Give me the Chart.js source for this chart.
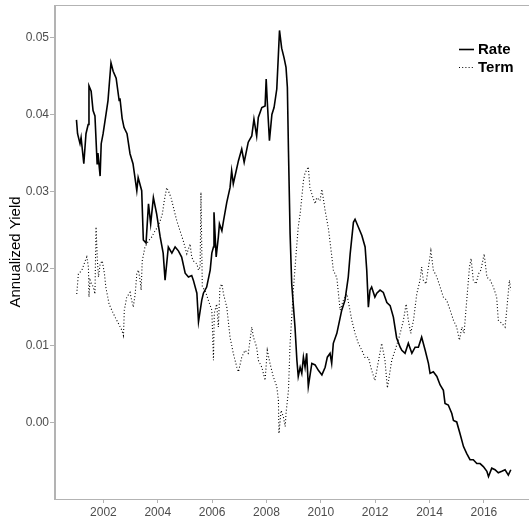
<!DOCTYPE html>
<html>
<head>
<meta charset="utf-8">
<title>Annualized Yield</title>
<script src="https://cdn.jsdelivr.net/npm/chart.js@4.4.1/dist/chart.umd.min.js"></script>
<style>
	html, body { margin: 0; padding: 0; background: #ffffff; overflow: hidden; }
	#wrap { width: 529px; height: 521px; }
</style>
</head>
<body>
<div id="wrap"><canvas id="yieldChart" width="529" height="521"></canvas></div>
<script>
	// Rate series (decimal year, yield)
	const rateYears = [
		2001.01, 2001.05, 2001.14, 2001.18, 2001.28, 2001.36, 2001.44, 2001.47, 2001.55, 2001.62,
		2001.69, 2001.77, 2001.80, 2001.88, 2001.92, 2001.99, 2002.10, 2002.17, 2002.28, 2002.36,
		2002.47, 2002.58, 2002.61, 2002.69, 2002.76, 2002.87, 2002.98, 2003.09, 2003.23, 2003.28,
		2003.41, 2003.47, 2003.57, 2003.66, 2003.74, 2003.84, 2003.96, 2004.09, 2004.20, 2004.27,
		2004.39, 2004.52, 2004.64, 2004.76, 2004.88, 2005.01, 2005.13, 2005.25, 2005.31, 2005.44,
		2005.50, 2005.62, 2005.68, 2005.80, 2005.93, 2005.99, 2006.05, 2006.07, 2006.15, 2006.23,
		2006.27, 2006.36, 2006.42, 2006.54, 2006.66, 2006.72, 2006.78, 2006.97, 2007.09, 2007.18,
		2007.33, 2007.46, 2007.54, 2007.64, 2007.70, 2007.83, 2007.95, 2007.99, 2008.03, 2008.11,
		2008.20, 2008.28, 2008.38, 2008.44, 2008.48, 2008.56, 2008.65, 2008.72, 2008.77, 2008.81,
		2008.87, 2008.93, 2009.05, 2009.12, 2009.17, 2009.24, 2009.30, 2009.36, 2009.42, 2009.48,
		2009.54, 2009.67, 2009.79, 2009.91, 2010.04, 2010.16, 2010.24, 2010.34, 2010.40, 2010.46,
		2010.59, 2010.77, 2010.89, 2011.01, 2011.08, 2011.20, 2011.26, 2011.38, 2011.51, 2011.63,
		2011.69, 2011.75, 2011.81, 2011.87, 2011.99, 2012.06, 2012.18, 2012.30, 2012.43, 2012.55,
		2012.67, 2012.79, 2012.92, 2012.98, 2013.10, 2013.22, 2013.35, 2013.47, 2013.59, 2013.71,
		2013.84, 2013.96, 2014.02, 2014.14, 2014.27, 2014.39, 2014.51, 2014.57, 2014.69, 2014.82,
		2014.88, 2015.00, 2015.12, 2015.25, 2015.37, 2015.49, 2015.61, 2015.74, 2015.86, 2015.98,
		2016.11, 2016.17, 2016.29, 2016.41, 2016.53, 2016.66, 2016.78, 2016.90, 2016.99
	];
	const rateValues = [
		0.0393, 0.0375, 0.0362, 0.0370, 0.0336, 0.0375, 0.0387, 0.0437, 0.0430, 0.0405,
		0.0398, 0.0336, 0.0350, 0.0320, 0.0362, 0.0375, 0.0401, 0.0418, 0.0467, 0.0456,
		0.0447, 0.0418, 0.0421, 0.0395, 0.0383, 0.0375, 0.0349, 0.0336, 0.0301, 0.0318,
		0.0301, 0.0237, 0.0233, 0.0284, 0.0258, 0.0292, 0.0271, 0.0241, 0.0220, 0.0185,
		0.0228, 0.0220, 0.0228, 0.0223, 0.0215, 0.0194, 0.0189, 0.0191, 0.0185, 0.0168,
		0.0131, 0.0159, 0.0168, 0.0176, 0.0198, 0.0220, 0.0228, 0.0273, 0.0215, 0.0241,
		0.0258, 0.0249, 0.0262, 0.0286, 0.0305, 0.0327, 0.0310, 0.0340, 0.0355, 0.0338,
		0.0364, 0.0372, 0.0394, 0.0372, 0.0396, 0.0409, 0.0411, 0.0446, 0.0417, 0.0366,
		0.0400, 0.0409, 0.0433, 0.0478, 0.0509, 0.0486, 0.0473, 0.0461, 0.0435, 0.0353,
		0.0245, 0.0180, 0.0124, 0.0081, 0.0060, 0.0072, 0.0064, 0.0085, 0.0072, 0.0090,
		0.0047, 0.0077, 0.0075, 0.0068, 0.0062, 0.0072, 0.0085, 0.0090, 0.0077, 0.0103,
		0.0116, 0.0146, 0.0159, 0.0189, 0.0219, 0.0260, 0.0264, 0.0254, 0.0243, 0.0228,
		0.0198, 0.0150, 0.0172, 0.0176, 0.0163, 0.0168, 0.0172, 0.0169, 0.0156, 0.0152,
		0.0137, 0.0110, 0.0098, 0.0094, 0.0090, 0.0103, 0.0090, 0.0098, 0.0098, 0.0111,
		0.0094, 0.0077, 0.0064, 0.0066, 0.0060, 0.0049, 0.0042, 0.0025, 0.0023, 0.0012,
		0.0003, 0.0001, -0.0014, -0.0031, -0.0040, -0.0048, -0.0048, -0.0053, -0.0053, -0.0057,
		-0.0063, -0.0070, -0.0059, -0.0061, -0.0065, -0.0063, -0.0061, -0.0068, -0.0061
	];

	// Term series (decimal year, yield)
	const termYears = [
		2001.02, 2001.08, 2001.21, 2001.33, 2001.39, 2001.45, 2001.47, 2001.51, 2001.57, 2001.63,
		2001.69, 2001.73, 2001.78, 2001.82, 2001.88, 2001.96, 2002.04, 2002.09, 2002.16, 2002.21,
		2002.31, 2002.43, 2002.55, 2002.68, 2002.74, 2002.77, 2002.86, 2002.98, 2003.04, 2003.10,
		2003.17, 2003.23, 2003.29, 2003.35, 2003.39, 2003.43, 2003.53, 2003.66, 2003.78, 2003.90,
		2004.00, 2004.09, 2004.17, 2004.24, 2004.33, 2004.39, 2004.49, 2004.58, 2004.70, 2004.82,
		2004.94, 2005.07, 2005.19, 2005.25, 2005.31, 2005.44, 2005.50, 2005.56, 2005.59, 2005.64,
		2005.74, 2005.86, 2005.99, 2006.05, 2006.08, 2006.17, 2006.23, 2006.29, 2006.36, 2006.42,
		2006.54, 2006.66, 2006.78, 2006.91, 2006.97, 2007.09, 2007.21, 2007.33, 2007.46, 2007.52,
		2007.64, 2007.70, 2007.83, 2007.95, 2008.03, 2008.13, 2008.25, 2008.38, 2008.44, 2008.46,
		2008.54, 2008.62, 2008.69, 2008.72, 2008.81, 2008.87, 2008.93, 2008.99, 2009.09, 2009.17,
		2009.24, 2009.30, 2009.36, 2009.42, 2009.54, 2009.60, 2009.67, 2009.79, 2009.85, 2009.97,
		2010.04, 2010.16, 2010.28, 2010.40, 2010.46, 2010.59, 2010.71, 2010.83, 2010.96, 2011.05,
		2011.14, 2011.26, 2011.38, 2011.51, 2011.63, 2011.75, 2011.87, 2011.99, 2012.08, 2012.24,
		2012.36, 2012.45, 2012.61, 2012.73, 2012.85, 2012.92, 2013.04, 2013.14, 2013.22, 2013.31,
		2013.41, 2013.53, 2013.65, 2013.71, 2013.77, 2013.87, 2013.96, 2014.05, 2014.14, 2014.27,
		2014.39, 2014.51, 2014.63, 2014.76, 2014.88, 2015.00, 2015.10, 2015.19, 2015.27, 2015.37,
		2015.47, 2015.53, 2015.61, 2015.71, 2015.80, 2015.89, 2016.01, 2016.11, 2016.23, 2016.35,
		2016.47, 2016.53, 2016.66, 2016.78, 2016.84, 2016.94, 2016.99
	];
	const termValues = [
		0.0167, 0.0193, 0.0198, 0.0210, 0.0215, 0.0202, 0.0163, 0.0185, 0.0180, 0.0176,
		0.0167, 0.0254, 0.0210, 0.0189, 0.0206, 0.0210, 0.0193, 0.0176, 0.0163, 0.0154,
		0.0146, 0.0137, 0.0129, 0.0120, 0.0113, 0.0146, 0.0163, 0.0169, 0.0159, 0.0150,
		0.0167, 0.0193, 0.0198, 0.0185, 0.0172, 0.0210, 0.0228, 0.0236, 0.0241, 0.0249,
		0.0254, 0.0262, 0.0271, 0.0288, 0.0305, 0.0301, 0.0292, 0.0279, 0.0262, 0.0249,
		0.0236, 0.0219, 0.0232, 0.0215, 0.0210, 0.0206, 0.0198, 0.0202, 0.0299, 0.0176,
		0.0172, 0.0159, 0.0146, 0.0081, 0.0142, 0.0154, 0.0124, 0.0176, 0.0180, 0.0167,
		0.0150, 0.0111, 0.0090, 0.0072, 0.0066, 0.0085, 0.0094, 0.0090, 0.0124, 0.0111,
		0.0098, 0.0081, 0.0072, 0.0055, 0.0094, 0.0077, 0.0060, 0.0047, 0.0029, -0.0014,
		0.0016, 0.0008, -0.0005, 0.0012, 0.0042, 0.0103, 0.0137, 0.0172, 0.0219, 0.0254,
		0.0271, 0.0292, 0.0314, 0.0324, 0.0332, 0.0305, 0.0297, 0.0284, 0.0292, 0.0288,
		0.0303, 0.0275, 0.0252, 0.0217, 0.0198, 0.0188, 0.0146, 0.0159, 0.0167, 0.0150,
		0.0133, 0.0116, 0.0103, 0.0094, 0.0084, 0.0085, 0.0068, 0.0055, 0.0072, 0.0103,
		0.0081, 0.0045, 0.0081, 0.0094, 0.0107, 0.0116, 0.0133, 0.0154, 0.0133, 0.0116,
		0.0133, 0.0167, 0.0185, 0.0202, 0.0185, 0.0180, 0.0202, 0.0223, 0.0198, 0.0189,
		0.0176, 0.0163, 0.0159, 0.0146, 0.0133, 0.0124, 0.0107, 0.0124, 0.0116, 0.0159,
		0.0202, 0.0213, 0.0185, 0.0180, 0.0193, 0.0198, 0.0219, 0.0189, 0.0185, 0.0176,
		0.0163, 0.0133, 0.0129, 0.0124, 0.0146, 0.0185, 0.0172
	];

	// Tick positions
	const xTickValues = [2002, 2004, 2006, 2008, 2010, 2012, 2014, 2016];
	const yTickValues = [0.00, 0.01, 0.02, 0.03, 0.04, 0.05];

	const axisGrey = "#b3b3b3";
	const labelGrey = "#4d4d4d";
	const fontFamily = "'Liberation Sans', Arial, sans-serif";

	function toPoints(xs, ys) {
		return xs.map((x, i) => ({ x: x, y: ys[i] }));
	}

	// grey panel frame (top + left + bottom, right edge lies outside the canvas)
	const panelFrame = {
		id: "panelFrame",
		afterDraw(chart) {
			const a = chart.chartArea;
			const ctx = chart.ctx;
			ctx.save();
			ctx.strokeStyle = axisGrey;
			ctx.lineWidth = 1;
			ctx.strokeRect(a.left - 0.5, a.top + 0.5, a.right - a.left + 1, a.bottom - a.top);
			ctx.restore();
		},
	};

	// small legend in the upper right corner of the panel
	const cornerLegend = {
		id: "cornerLegend",
		afterDraw(chart) {
			const ctx = chart.ctx;
			ctx.save();
			chart.data.datasets.forEach((ds, i) => {
				const y = 49.5 + i * 18;
				ctx.beginPath();
				ctx.strokeStyle = "#000";
				ctx.lineWidth = ds.borderWidth;
				ctx.setLineDash(ds.borderDash || []);
				ctx.moveTo(459, y);
				ctx.lineTo(474, y);
				ctx.stroke();
				ctx.setLineDash([]);
				ctx.fillStyle = "#000";
				ctx.font = "bold 15px " + fontFamily;
				ctx.textBaseline = "middle";
				ctx.textAlign = "left";
				ctx.fillText(ds.label, 478, y);
			});
			ctx.restore();
		},
	};

	function createYieldChart() {
		const ctx = document.getElementById("yieldChart").getContext("2d");
		return new Chart(ctx, {
			type: "line",
			data: {
				datasets: [
					{
						label: "Rate",
						data: toPoints(rateYears, rateValues),
						borderColor: "#000",
						borderWidth: 1.6,
						pointRadius: 0,
						tension: 0,
					},
					{
						label: "Term",
						data: toPoints(termYears, termValues),
						borderColor: "#000",
						borderWidth: 1.1,
						borderDash: [1, 2.2],
						pointRadius: 0,
						tension: 0,
					},
				],
			},
			options: {
				responsive: false,
				animation: false,
				layout: { padding: { top: 5, right: 0, bottom: 0, left: 0 } },
				plugins: {
					legend: { display: false },
					tooltip: { enabled: false },
				},
				scales: {
					x: {
						type: "linear",
						min: 2000.22,
						max: 2017.66,
						afterBuildTicks: (axis) => {
							axis.ticks = xTickValues.map((v) => ({ value: v }));
						},
						afterFit: (axis) => {
							axis.height = 22;
							axis.paddingLeft = 0;
							axis.paddingRight = 0;
						},
						grid: { drawOnChartArea: false, tickLength: 4, tickColor: axisGrey, color: axisGrey },
						border: { color: axisGrey, width: 1 },
						ticks: {
							color: labelGrey,
							font: { family: fontFamily, size: 12 },
							padding: 2,
							maxRotation: 0,
							autoSkip: false,
							callback: (v) => String(v),
						},
					},
					y: {
						type: "linear",
						min: -0.0099,
						max: 0.0542,
						afterBuildTicks: (axis) => {
							axis.ticks = yTickValues.map((v) => ({ value: v }));
						},
						afterFit: (axis) => {
							axis.width = 55;
							axis.paddingTop = 0;
							axis.paddingBottom = 0;
						},
						grid: { drawOnChartArea: false, tickLength: 5, tickColor: axisGrey, color: axisGrey },
						border: { color: axisGrey, width: 1 },
						ticks: {
							color: labelGrey,
							font: { family: fontFamily, size: 12 },
							padding: 1,
							autoSkip: false,
							callback: (v) => v.toFixed(2),
						},
						title: {
							display: true,
							text: "Annualized Yield",
							color: "#000",
							font: { family: fontFamily, size: 15 },
							padding: { top: 7, bottom: 0 },
						},
					},
				},
			},
			plugins: [panelFrame, cornerLegend],
		});
	}

	createYieldChart();
</script>
</body>
</html>
